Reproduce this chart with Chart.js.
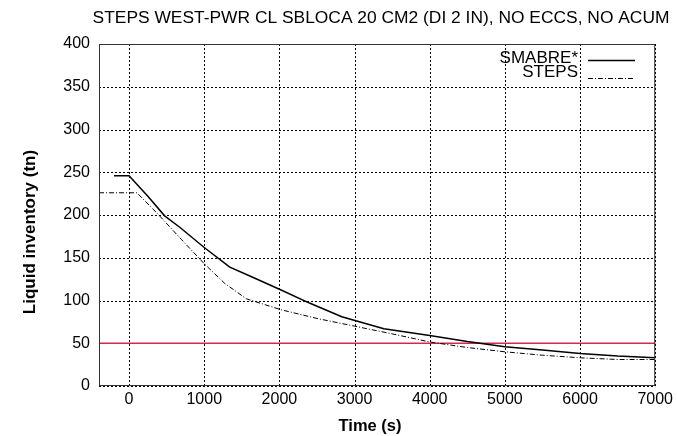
<!DOCTYPE html>
<html><head><meta charset="utf-8">
<style>html,body{margin:0;padding:0;background:#fff}</style>
<script src="https://cdn.jsdelivr.net/npm/chart.js@4/dist/chart.umd.min.js"></script>
</head><body>
<canvas id="c" width="677" height="436"></canvas>
<script>
const chartTitle = "STEPS WEST-PWR CL SBLOCA 20 CM2 (DI 2 IN), NO ECCS, NO ACUM";
const xAxisTitle = "Time (s)";
const yAxisTitle = "Liquid inventory (tn)";
const xTicks = [0, 1000, 2000, 3000, 4000, 5000, 6000, 7000];
const yTicks = [0, 50, 100, 150, 200, 250, 300, 350, 400];
const seriesNames = ["SMABRE*", "STEPS"];
const smabreT = [-200, 0, 250, 473, 670, 1000, 1340, 1600, 2030, 2400, 2830, 3390, 4000, 4500, 5000, 5500, 6000, 6500, 7000];
const smabreV = [246, 246, 222, 199, 186, 162, 139, 129, 112, 97, 81, 67, 59, 52, 46, 42, 38, 35, 33];
const stepsT = [-400, 104, 385, 700, 1000, 1273, 1560, 2030, 2500, 3000, 3500, 4000, 4500, 5000, 5500, 6000, 6500, 7000];
const stepsV = [226, 226, 201, 171, 143, 120, 102, 89, 79, 70, 61, 51.5, 45, 40, 36, 33, 31, 31];
const refT = [-400, 7000];
const refV = [50, 50];

const pts = (t, v) => t.map((x, i) => ({x: x, y: v[i]}));
const FONT = "'Liberation Sans', Arial, sans-serif";

const dottedGrid = {
  id: 'dottedGrid',
  beforeDatasetsDraw(chart) {
    const ctx = chart.ctx, a = chart.chartArea;
    const xs = chart.scales.x, ys = chart.scales.y;
    ctx.save();
    ctx.strokeStyle = '#000';
    ctx.lineWidth = 1;
    ctx.setLineDash([2, 2]);
    xTicks.forEach(v => {
      const px = Math.round(xs.getPixelForValue(v)) + 0.5;
      ctx.beginPath(); ctx.moveTo(px, a.top); ctx.lineTo(px, a.bottom); ctx.stroke();
    });
    yTicks.forEach(v => {
      const py = Math.round(ys.getPixelForValue(v)) + 0.5;
      ctx.beginPath(); ctx.moveTo(a.left, py); ctx.lineTo(a.right, py); ctx.stroke();
    });
    ctx.restore();
  }
};

const customText = {
  id: 'customText',
  afterDraw(chart) {
    const ctx = chart.ctx, a = chart.chartArea;
    ctx.save();
    ctx.strokeStyle = '#333';
    ctx.lineWidth = 1;
    ctx.strokeRect(a.left + 0.5, a.top + 0.5, a.right - a.left - 1, a.bottom - a.top - 1);
    ctx.fillStyle = '#000';
    ctx.font = "17.4px " + FONT;
    ctx.textAlign = 'center';
    ctx.textBaseline = 'middle';
    ctx.fillText(chartTitle, 381, 18);
    ctx.font = "bold 16.5px " + FONT;
    ctx.fillText(xAxisTitle, 370, 426);
    ctx.save();
    ctx.translate(30, 232);
    ctx.rotate(-Math.PI / 2);
    ctx.font = "bold 17px " + FONT;
    ctx.fillText(yAxisTitle, 0, 0);
    ctx.restore();
    ctx.font = "17px " + FONT;
    ctx.textAlign = 'right';
    ctx.fillText(seriesNames[0], 578, 58);
    ctx.fillText(seriesNames[1], 578, 72.5);
    ctx.strokeStyle = '#000';
    ctx.lineWidth = 1.5;
    ctx.beginPath(); ctx.moveTo(588, 60.5); ctx.lineTo(635, 60.5); ctx.stroke();
    ctx.lineWidth = 1;
    ctx.setLineDash([5, 2, 1, 2]);
    ctx.beginPath(); ctx.moveTo(588, 78.5); ctx.lineTo(635, 78.5); ctx.stroke();
    ctx.restore();
  }
};

new Chart(document.getElementById('c'), {
  type: 'scatter',
  data: {
    datasets: [
      {label: 'ref', data: pts(refT, refV), showLine: true, borderColor: '#d7264f', borderWidth: 1.6, pointRadius: 0, order: 3},
      {label: seriesNames[1], data: pts(stepsT, stepsV), showLine: true, borderColor: '#000', borderWidth: 1, borderDash: [5, 2, 1, 2], pointRadius: 0, order: 2},
      {label: seriesNames[0], data: pts(smabreT, smabreV), showLine: true, borderColor: '#000', borderWidth: 1.5, pointRadius: 0, order: 1}
    ]
  },
  options: {
    responsive: false,
    animation: false,
    layout: {padding: {left: 0, top: 44, right: 21, bottom: 0}},
    plugins: {legend: {display: false}, tooltip: {enabled: false}, title: {display: false}},
    scales: {
      x: {
        type: 'linear', min: -400, max: 7000,
        afterBuildTicks: s => { s.ticks = xTicks.map(v => ({value: v})); },
        afterFit: s => { s.height = 50; },
        grid: {display: false, drawTicks: false},
        border: {display: false},
        ticks: {font: {family: FONT, size: 16}, color: '#000', padding: 4, maxRotation: 0, callback: v => String(v)}
      },
      y: {
        type: 'linear', min: 0, max: 400,
        afterBuildTicks: s => { s.ticks = yTicks.map(v => ({value: v})); },
        afterFit: s => { s.width = 99; },
        grid: {display: false, drawTicks: false},
        border: {display: false},
        ticks: {font: {family: FONT, size: 16}, color: '#000', padding: 9, callback: v => String(v)}
      }
    }
  },
  plugins: [dottedGrid, customText]
});
</script>
</body></html>
